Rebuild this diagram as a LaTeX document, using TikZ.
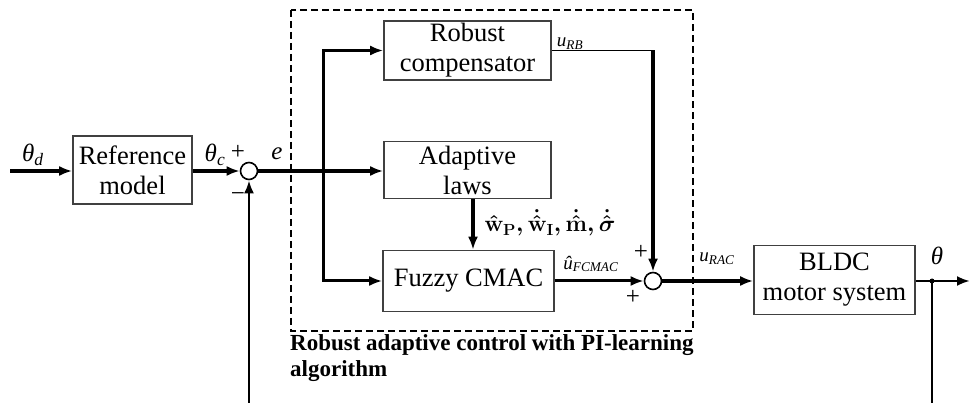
\documentclass[tikz,border=0pt]{standalone}
\usepackage{fix-cm}
\usepackage{amsmath,bm}
\usepackage{fontspec}
\setmainfont{Liberation Serif}
\usetikzlibrary{arrows.meta}
\begin{document}
\begin{tikzpicture}[x=1pt,y=-1pt,
  blk/.style={draw=black!75, line width=1.6pt, align=center, inner sep=0pt,
    font=\fontsize{26.5}{30}\selectfont},
  tip/.style={-{Latex[length=13pt,width=10pt]}},
  conn/.style={line width=3pt, tip},
  thick conn/.style={line width=3.6pt, tip},
  plain/.style={line width=2.8pt},
  sumnode/.style={circle, draw, line width=1.6pt, fill=white, minimum size=17pt, inner sep=0pt},
  lbl/.style={inner sep=0pt, font=\fontsize{25}{27}\selectfont},
  slbl/.style={inner sep=0pt, font=\fontsize{19}{22}\selectfont},
  dashbox/.style={line width=2pt, dash pattern=on 7pt off 4pt}
]
\useasboundingbox (0,0) rectangle (970,403);

\draw[dashbox] (291,10) rectangle (693,331);

\node[blk, minimum width=119pt, minimum height=68pt] (ref) at (132.5,170) {Reference\\model};
\node[sumnode] (s1) at (249,171) {};
\node[blk, minimum width=167pt, minimum height=59pt] (rob) at (467.5,50.5) {Robust\\compensator};
\node[blk, minimum width=167pt, minimum height=57pt] (ada) at (467.5,170) {Adaptive\\laws};
\node[blk, minimum width=171pt, minimum height=61pt] (fuz) at (468.5,281) {Fuzzy CMAC};
\node[sumnode] (s2) at (653,281) {};
\node[blk, minimum width=161pt, minimum height=69pt] (bldc) at (834.5,280) {BLDC\\motor system};

\coordinate (in) at (10,171);
\coordinate (br) at (323,171);
\coordinate (tap) at (932,281);
\coordinate (out) at (970,281);
\coordinate (fbR) at (932,403);
\coordinate (fbL) at (249,403);

\draw[thick conn] (in) -- (in -| ref.west);
\draw[thick conn] (ref.east |- s1) -- (s1.west);
\draw[thick conn] (s1.east) -- (s1 -| ada.west);
\draw[conn] (br) |- (rob.west);
\draw[conn] (br) |- (fuz.west);
\draw[thick conn] ([xshift=5.5pt]ada.south) -- ([xshift=5.5pt]ada.south |- fuz.north);
\draw[line width=1.6pt] (rob.east) -| (s2.north |- rob.east);
\draw[thick conn] (s2.north |- rob.east) -- (s2.north);
\draw[conn] (fuz.east) -- (s2.west);
\draw[thick conn] (s2.east) -- (s2 -| bldc.west);
\draw[plain, tip] (tap -| bldc.east) -- (out);
\draw[plain] (tap) -- (fbR);
\draw[plain, tip] (fbL) -- (s1.south);
\fill (tap) circle (2.5pt);

\node[lbl] (ld) at (33,155) {\textit{θ}\textsubscript{\textit{d}}};
\node[lbl] (lc) at (215,155) {\textit{θ}\textsubscript{\textit{c}}};
\node[lbl] (lp1) at (238,152) {+};
\node[lbl] (le) at (277,154) {\textit{e}};
\node[lbl] (lm1) at (238,197) {−};
\node[slbl] (lrb) at (570,44) {\textit{u}\textsubscript{\textit{RB}}};
\node[inner sep=0pt, font=\fontsize{23}{25}\selectfont\boldmath] (lw) at (550,223)
  {$\hat{\mathbf{w}}_{\mathbf{P}}, \dot{\hat{\mathbf{w}}}_{\mathbf{I}}, \dot{\hat{\mathbf{m}}}, \dot{\hat{\bm{\sigma}}}$};
\node[slbl] (lfc) at (591,264) {\textit{û}\textsubscript{\textit{FCMAC}}};
\node[lbl] (lp2) at (641,252) {+};
\node[lbl] (lp3) at (633,297) {+};
\node[slbl] (lrac) at (717,259) {\textit{u}\textsubscript{\textit{RAC}}};
\node[lbl] (lth) at (937,256) {\textit{θ}};
\node[anchor=base west, align=left, inner sep=0pt,
  font=\fontsize{23}{26}\selectfont\bfseries] (cap) at (290,377)
  {Robust adaptive control with PI-learning\\algorithm};
\end{tikzpicture}
\end{document}
